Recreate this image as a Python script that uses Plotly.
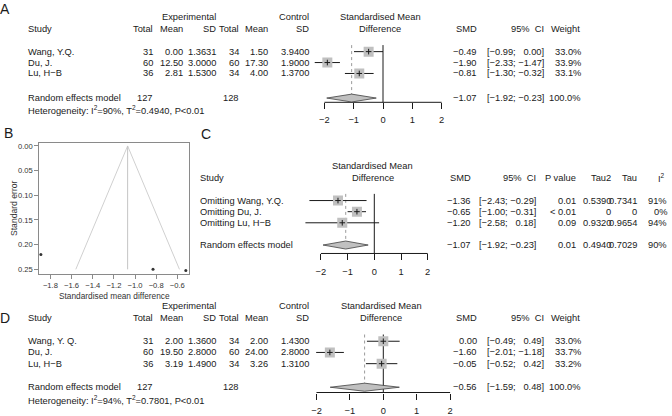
import plotly.graph_objects as go

# --- Page / style ---
W, H = 672, 416
FONT = "Liberation Sans, Arial, Helvetica, sans-serif"
FS = 9.3
INK = "#1a1a1a"
SQUARE_GREY = "#c0c0c0"
MINUS = "\u2212"

# --- Panel A: meta-analysis, outcome 1 ---
study_a = ["Wang, Y.Q.", "Du, J.", "Lu, H\u2212B"]
exp_n_a = [31, 60, 36]
exp_mean_a = [0.00, 12.50, 2.81]
exp_sd_a = [1.3631, 3.0000, 1.5300]
ctl_n_a = [34, 60, 34]
ctl_mean_a = [1.50, 17.30, 4.00]
ctl_sd_a = [3.9400, 1.9000, 1.3700]
smd_a = [-0.49, -1.90, -0.81]
lo_a = [-0.99, -2.33, -1.30]
hi_a = [0.00, -1.47, -0.32]
weight_a = [33.0, 33.9, 33.1]
re_a = [-1.07, -1.92, -0.23]
re_weight_a = 100.0
tot_a = [127, 128]
het_a = ["90%", "0.4940", "0.01"]

# --- Panel B: funnel plot ---
funnel_smd = [-1.89, -0.83, -0.52]
funnel_se = [0.220, 0.250, 0.2526]
funnel_center = -1.07
funnel_se_max = 0.25

# --- Panel C: leave-one-out sensitivity ---
study_c = ["Omitting Wang, Y.Q.", "Omitting Du, J.", "Omitting Lu, H\u2212B"]
smd_c = [-1.36, -0.65, -1.20]
lo_c = [-2.43, -1.00, -2.58]
hi_c = [-0.29, -0.31, 0.18]
pval_c = ["0.01", "&lt; 0.01", "0.09"]
tau2_c = ["0.5390", "0", "0.9320"]
tau_c = ["0.7341", "0", "0.9654"]
i2_c = ["91%", "0%", "94%"]
re_c = [-1.07, -1.92, -0.23]
re_stats_c = ["0.01", "0.4940", "0.7029", "90%"]

# --- Panel D: meta-analysis, outcome 2 ---
study_d = ["Wang, Y. Q.", "Du, J.", "Lu, H\u2212B"]
exp_n_d = [31, 60, 36]
exp_mean_d = [2.00, 19.50, 3.19]
exp_sd_d = [1.3600, 2.8000, 1.4900]
ctl_n_d = [34, 60, 34]
ctl_mean_d = [2.00, 24.00, 3.26]
ctl_sd_d = [1.4300, 2.8000, 1.3100]
smd_d = [0.00, -1.60, -0.05]
lo_d = [-0.49, -2.01, -0.52]
hi_d = [0.49, -1.18, 0.42]
weight_d = [33.0, 33.7, 33.2]
re_d = [-0.56, -1.59, 0.48]
re_weight_d = 100.0
tot_d = [127, 128]
het_d = ["94%", "0.7801", "0.01"]

SMD_TICKS = [-2, -1, 0, 1, 2]
FUNNEL_XTICKS = [-1.8, -1.6, -1.4, -1.2, -1.0, -0.8, -0.6]
FUNNEL_YTICKS = [0.00, 0.05, 0.10, 0.15, 0.20, 0.25]
ROWS = [1, 2, 3]

# pixel geometry of the three forest panels
PANELS = {
    "a": dict(x0=383, ppu=29.3, y0=50, s=11.0, xr=(-2.7, 2.3), rows=(-3.5, 7.2),
              re_row=5.25, axis_row=5.64, het_row=6.32, h1=-2.18, h2=-1.05, mid=380),
    "c": dict(x0=374.3, ppu=26.7, y0=200, s=11.2, xr=(-2.9, 2.3), rows=(-3.5, 7.3),
              re_row=5.0, axis_row=5.76, het_row=6.3, h1=-2.12, h2=-1.05, mid=372.5),
    "d": dict(x0=383.3, ppu=33.4, y0=341.7, s=11.3, xr=(-2.5, 2.3), rows=(-3.6, 7.0),
              re_row=5.1, axis_row=5.57, het_row=6.25, h1=-2.1, h2=-1.07, mid=381),
}

# right edges of the left-hand table columns (A and D)
COL_EXP_N, COL_EXP_MEAN, COL_EXP_SD = 154.3, 184, 216.7
COL_CTL_N, COL_CTL_MEAN, COL_CTL_SD = 240, 269.3, 310
COL_SMD, COL_CI, COL_WT = 478.3, 545, 581.5


def num(v, d=2):
    return f"{v:.{d}f}".replace("-", MINUS)


def ci(lo, hi):
    pad = lambda v: num(v) if v < 0 else "\u2007" + num(v)
    return f"[{pad(lo)}; {pad(hi)}]"


annotations = []


def text(x, y, s, yref, anchor="right", size=FS):
    annotations.append(dict(
        x=x / W, y=y, xref="paper", yref=yref, text=s, showarrow=False,
        xanchor=anchor, yanchor="middle", borderpad=0,
        font=dict(family=FONT, size=size, color=INK),
    ))


def label(x, y, s, size=14, angle=0, color=INK):
    annotations.append(dict(
        x=x / W, y=1 - y / H, xref="paper", yref="paper", text=s, showarrow=False,
        textangle=angle, xanchor="center", yanchor="middle",
        font=dict(family=FONT, size=size, color=color),
    ))


fig = go.Figure()
layout_axes = {}


def forest(key, n, est, lo, hi, re):
    cfg = PANELS[key]
    xa, ya = f"x{n}", f"y{n}"
    row_px = lambda r: cfg["y0"] + (r - 1) * cfg["s"]
    x_lo, x_hi = cfg["xr"]
    top_r, bot_r = cfg["rows"]
    layout_axes[f"xaxis{n}"] = dict(
        domain=[(cfg["x0"] + x_lo * cfg["ppu"]) / W, (cfg["x0"] + x_hi * cfg["ppu"]) / W],
        range=[x_lo, x_hi], anchor="free", position=1 - row_px(cfg["axis_row"]) / H,
        showgrid=False, zeroline=False, showline=False,
        ticks="outside", ticklen=6, tickwidth=1, tickcolor=INK,
        tickvals=SMD_TICKS, ticktext=[num(t, 0) for t in SMD_TICKS],
        tickfont=dict(family=FONT, size=FS, color=INK), ticklabelstandoff=3,
    )
    layout_axes[f"yaxis{n}"] = dict(
        domain=[1 - row_px(bot_r) / H, 1 - row_px(top_r) / H],
        range=[bot_r, top_r], visible=False, anchor=xa,
    )
    # axis line from first to last tick
    fig.add_trace(go.Scatter(x=[SMD_TICKS[0], SMD_TICKS[-1]], y=[cfg["axis_row"]] * 2,
                             mode="lines", line=dict(color=INK, width=1), xaxis=xa, yaxis=ya))
    # no-effect line and pooled-estimate dotted line
    fig.add_trace(go.Scatter(x=[0, 0], y=[0.4, cfg["axis_row"]], mode="lines",
                             line=dict(color=INK, width=1), xaxis=xa, yaxis=ya))
    fig.add_trace(go.Scatter(x=[re[0], re[0]], y=[0.4, cfg["re_row"]], mode="lines",
                             line=dict(color="#9a9a9a", width=1, dash="dot"), xaxis=xa, yaxis=ya))
    # confidence intervals
    cx, cy = [], []
    for r, l, h in zip(ROWS, lo, hi):
        cx += [l, h, None]
        cy += [r, r, None]
    fig.add_trace(go.Scatter(x=cx, y=cy, mode="lines", line=dict(color=INK, width=1),
                             xaxis=xa, yaxis=ya))
    fig.add_trace(go.Scatter(x=est, y=ROWS, mode="markers",
                             marker=dict(symbol="square", size=10, color=SQUARE_GREY),
                             xaxis=xa, yaxis=ya))
    fig.add_trace(go.Scatter(x=est, y=ROWS, mode="markers",
                             marker=dict(symbol="cross-thin", size=4, line=dict(color=INK, width=1)),
                             xaxis=xa, yaxis=ya))
    # pooled diamond
    rr, dh = cfg["re_row"], 0.36
    fig.add_trace(go.Scatter(x=[re[1], re[0], re[2], re[0], re[1]],
                             y=[rr, rr - dh, rr, rr + dh, rr], mode="lines", fill="toself",
                             fillcolor=SQUARE_GREY, line=dict(color="#404040", width=0.8),
                             xaxis=xa, yaxis=ya))
    # column header over the plot
    text(cfg["mid"], cfg["h1"], "Standardised Mean", ya, "center")
    text(cfg["mid"], cfg["h2"], "Difference", ya, "center")
    return ya


def main_table(key, ya, study, en, em, es, cn, cm, cs, est, lo, hi, wt, re, re_wt, tot, het):
    cfg = PANELS[key]
    h1, h2 = cfg["h1"], cfg["h2"]
    text(COL_EXP_SD, h1, "Experimental", ya)
    text(COL_CTL_SD, h1, "Control", ya)
    text(27, h2, "Study", ya, "left")
    for x, s in [(COL_EXP_N, "Total"), (COL_EXP_MEAN, "Mean"), (COL_EXP_SD, "SD"),
                 (COL_CTL_N, "Total"), (COL_CTL_MEAN, "Mean"), (COL_CTL_SD, "SD"),
                 (COL_SMD, "SMD"), (COL_CI, "95%\u00a0\u00a0CI"), (COL_WT - 1, "Weight")]:
        text(x, h2, s, ya)
    for i, r in enumerate(ROWS):
        text(27, r, study[i], ya, "left")
        text(COL_EXP_N, r, str(en[i]), ya)
        text(COL_EXP_MEAN, r, num(em[i]), ya)
        text(COL_EXP_SD, r, num(es[i], 4), ya)
        text(COL_CTL_N, r, str(cn[i]), ya)
        text(COL_CTL_MEAN, r, num(cm[i]), ya)
        text(COL_CTL_SD, r, num(cs[i], 4), ya)
        text(COL_SMD, r, num(est[i]), ya)
        text(COL_CI, r, ci(lo[i], hi[i]), ya)
        text(COL_WT, r, f"{wt[i]:.1f}%", ya)
    rr = cfg["re_row"]
    text(27, rr, "Random effects model", ya, "left")
    text(COL_EXP_N, rr, str(tot[0]), ya)
    text(COL_CTL_N, rr, str(tot[1]), ya)
    text(COL_SMD, rr, num(re[0]), ya)
    text(COL_CI, rr, ci(re[1], re[2]), ya)
    text(COL_WT, rr, f"{re_wt:.1f}%", ya)
    text(27, cfg["het_row"],
         f"Heterogeneity: I<sup>2</sup>={het[0]}, T<sup>2</sup>={het[1]}, P&lt;{het[2]}", ya, "left")


# --- Panel A ---
ya_a = forest("a", 1, smd_a, lo_a, hi_a, re_a)
main_table("a", ya_a, study_a, exp_n_a, exp_mean_a, exp_sd_a, ctl_n_a, ctl_mean_a, ctl_sd_a,
           smd_a, lo_a, hi_a, weight_a, re_a, re_weight_a, tot_a, het_a)

# --- Panel C ---
ya_c = forest("c", 3, smd_c, lo_c, hi_c, re_c)
cc = PANELS["c"]
text(199, cc["h2"], "Study", ya_c, "left")
for x, s in [(471.7, "SMD"), (536.7, "95%\u00a0\u00a0CI"), (576.7, "P value"), (611.7, "Tau2"),
             (638.3, "Tau"), (666, "I<sup>2</sup>")]:
    text(x, cc["h2"], s, ya_c)
for i, r in enumerate(ROWS):
    text(199, r, study_c[i], ya_c, "left")
    text(471.7, r, num(smd_c[i]), ya_c)
    text(536.7, r, ci(lo_c[i], hi_c[i]), ya_c)
    text(576.7, r, pval_c[i], ya_c)
    text(611.7, r, tau2_c[i], ya_c)
    text(638.3, r, tau_c[i], ya_c)
    text(668.3, r, i2_c[i], ya_c)
text(199, cc["re_row"], "Random effects model", ya_c, "left")
text(471.7, cc["re_row"], num(re_c[0]), ya_c)
text(536.7, cc["re_row"], ci(re_c[1], re_c[2]), ya_c)
for x, s in zip([576.7, 611.7, 638.3, 668.3], re_stats_c):
    text(x, cc["re_row"], s, ya_c)

# --- Panel D ---
ya_d = forest("d", 4, smd_d, lo_d, hi_d, re_d)
main_table("d", ya_d, study_d, exp_n_d, exp_mean_d, exp_sd_d, ctl_n_d, ctl_mean_d, ctl_sd_d,
           smd_d, lo_d, hi_d, weight_d, re_d, re_weight_d, tot_d, het_d)

# --- Panel B: funnel ---
FUNNEL_GREY = "#d0d0d0"
z = 1.96
fig.add_trace(go.Scatter(
    x=[funnel_center - z * funnel_se_max, funnel_center, funnel_center + z * funnel_se_max],
    y=[funnel_se_max, 0, funnel_se_max], mode="lines",
    line=dict(color=FUNNEL_GREY, width=1), xaxis="x2", yaxis="y2"))
fig.add_trace(go.Scatter(x=[funnel_center, funnel_center], y=[0, funnel_se_max], mode="lines",
                         line=dict(color="#c4c4c4", width=1), xaxis="x2", yaxis="y2"))
fig.add_trace(go.Scatter(x=funnel_smd, y=funnel_se, mode="markers", cliponaxis=False,
                         marker=dict(size=3, color="#333333"), xaxis="x2", yaxis="y2"))

tick_small = dict(family=FONT, size=7.6, color="#333333")
title_small = dict(family=FONT, size=8.3, color="#333333")
layout_axes["xaxis2"] = dict(
    domain=[39.3 / W, 189.3 / W], range=[-1.905, -0.487], anchor="y2",
    showline=True, mirror=True, linecolor="#8a8a8a", linewidth=1,
    showgrid=False, zeroline=False, ticks="outside", ticklen=4, tickcolor="#8a8a8a",
    tickvals=FUNNEL_XTICKS, ticktext=[num(t, 1) for t in FUNNEL_XTICKS], tickfont=tick_small,
    title=dict(text="Standardised mean difference", font=title_small, standoff=3),
)
layout_axes["yaxis2"] = dict(
    domain=[1 - 274.3 / H, 1 - 142.3 / H], range=[0.2601, -0.0054], anchor="x2",
    showline=True, mirror=True, linecolor="#8a8a8a", linewidth=1,
    showgrid=False, zeroline=False, ticks="outside", ticklen=4, tickcolor="#8a8a8a",
    tickvals=FUNNEL_YTICKS, ticktext=[f"{t:.2f}" for t in FUNNEL_YTICKS], tickfont=tick_small,
)
label(13.5, 208, "Standard error", size=8.6, angle=-90, color="#333333")

# panel letters
label(5, 7, "A")
label(8, 132, "B")
label(206, 133, "C")
label(5, 318, "D")

fig.update_layout(
    width=W, height=H, margin=dict(l=0, r=0, t=0, b=0),
    paper_bgcolor="white", plot_bgcolor="rgba(0,0,0,0)",
    showlegend=False, hovermode=False, annotations=annotations,
    font=dict(family=FONT, size=FS, color=INK),
    **layout_axes,
)
# drop the default body margin so the figure sits at the window's top-left corner
fig.write_html("out.html", config={"displayModeBar": False},
               post_script="document.body.style.margin='0';")
